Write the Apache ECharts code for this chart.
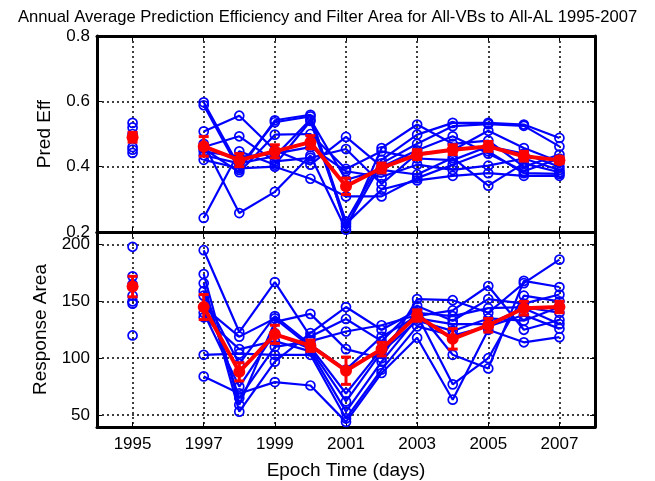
<!DOCTYPE html>
<html><head><meta charset="utf-8">
<script src="https://cdn.jsdelivr.net/npm/echarts@6/dist/echarts.min.js"></script>
<style>html,body{margin:0;padding:0;background:#fff}#c{width:655px;height:481px}</style>
</head><body><div id="c"></div>
<script>
const years = [1995,1996,1997,1998,1999,2000,2001,2002,2003,2004,2005,2006,2007];
const xTicks = [1995,1997,1999,2001,2003,2005,2007];
const effTicks = [0.2,0.4,0.6,0.8];
const areaTicks = [50,100,150,200];

const eff1 = [0.534,null,0.597,0.40,0.536,0.554,0.232,0.421,0.498,0.534,0.534,0.529,0.488];
const eff2 = [0.52,null,0.588,0.39,0.542,0.559,0.217,0.41,0.47,0.524,0.53,0.525,0.462];
const eff3 = [0.50,null,0.47,0.258,0.323,0.434,0.207,0.457,0.529,0.47,0.48,0.40,0.437];
const eff4 = [0.46,null,0.508,0.556,0.45,0.406,0.491,0.40,0.45,0.493,0.44,0.386,0.425];
const eff5 = [0.452,null,0.46,0.493,0.416,0.427,0.454,0.347,0.44,0.45,0.51,0.457,0.415];
const eff6 = [0.442,null,0.455,0.383,0.498,0.50,0.393,0.447,0.425,0.42,0.462,0.44,0.40];
const eff7 = [null,null,0.447,0.43,0.44,0.46,0.386,0.369,0.406,0.39,0.403,0.425,0.39];
const eff8 = [null,null,0.435,0.41,0.432,0.544,0.36,0.39,0.376,0.427,0.342,0.41,0.383];
const eff9 = [null,null,0.421,0.395,0.40,0.363,0.309,0.309,0.365,0.406,0.447,0.38,0.378];
const eff10 = [null,null,0.243,0.447,0.406,0.54,0.225,0.33,0.358,0.372,0.38,0.372,0.372];
const effMean = [0.49,null,0.462,0.42,0.447,0.475,0.34,0.396,0.437,0.452,0.462,0.432,0.42];
const effErr = [0.015,null,0.03,0.02,0.02,0.02,0.025,0.015,0.015,0.015,0.015,0.015,0.01];

const area1 = [198,null,195,123,167,119,134.5,115,146,133,152,148,156];
const area2 = [172,null,174,59,132,139,108,100,152,151,140,166,186.7];
const area3 = [165,null,166,53,97,122,145,125,142,103,91,168,162.6];
const area4 = [155,null,159,65,110,115,123.5,129,138,77,100,155,150];
const area5 = [150,null,155,95,137,112,90,119,137,142,163.5,125,133.6];
const area6 = [148,null,145,119,135,110,69,108,140,137,144,145,140];
const area7 = [120,null,140,75,122,108,62,105.5,133,124,135,133,145];
const area8 = [null,null,136,108,115,106,53,97,135,130,130,144,130];
const area9 = [null,null,103,104,103,103,47,90,128,120,128,138,126];
const area10 = [null,null,84,69,79,76,44,87,118,63.5,125,114,118.5];
const areaMean = [163,null,145,88,121,111,89,108,137.5,117,129,144,145];
const areaErr = [9,null,11,8,8,5,12,6,5,9,6,6,5];

const effSeries = [eff1,eff2,eff3,eff4,eff5,eff6,eff7,eff8,eff9,eff10];
const areaSeries = [area1,area2,area3,area4,area5,area6,area7,area8,area9,area10];

const FONT = 'Liberation Sans, Arial, sans-serif';
const pairs = arr => years.map((y,i) => [y, arr[i] == null ? '-' : arr[i]]);

function blue(arr, gi) {
  return {type:'line', xAxisIndex: gi*2, yAxisIndex: gi*2, data: pairs(arr),
    symbol:'circle', symbolSize: 9, connectNulls:false, silent:true, animation:false,
    lineStyle:{color:'#0000ff', width:2.2},
    itemStyle:{color:'rgba(0,0,0,0)', borderColor:'#0000ff', borderWidth:1.7}, z:2};
}
function redLine(arr, gi) {
  return {type:'line', xAxisIndex: gi*2, yAxisIndex: gi*2, data: pairs(arr),
    symbol:'circle', symbolSize: 12, connectNulls:false, animation:false,
    lineStyle:{color:'#ff0000', width:4}, itemStyle:{color:'#ff0000'}, z:5};
}
function errBars(mean, err, gi) {
  const d = [];
  years.forEach((y,i) => { if (mean[i] != null) d.push([y, mean[i], err[i]]); });
  return {type:'custom', xAxisIndex: gi*2, yAxisIndex: gi*2, data: d, animation:false, z:4,
    renderItem: (params, api) => {
      const x = api.value(0), m = api.value(1), e = api.value(2);
      const lo = api.coord([x, m - e]), hi = api.coord([x, m + e]);
      const w = 5, st = {stroke:'#ff0000', lineWidth:3};
      return {type:'group', children:[
        {type:'line', shape:{x1:lo[0],y1:lo[1],x2:hi[0],y2:hi[1]}, style:st},
        {type:'line', shape:{x1:lo[0]-w,y1:lo[1],x2:lo[0]+w,y2:lo[1]}, style:st},
        {type:'line', shape:{x1:hi[0]-w,y1:hi[1],x2:hi[0]+w,y2:hi[1]}, style:st}
      ]};
    }};
}

const tickStyle = {show:true, inside:true, length:5, lineStyle:{color:'#000', width:1}};
const gridLine = {show:true, lineStyle:{color:'#000', type:[2,3], width:1.5}};
function xAx(gi, pos, labels) {
  return {type:'value', gridIndex:gi, position:pos, min:1994, max:2008,
    axisLine:{show:true, onZero:false, lineStyle:{color:'#000', width:3}},
    axisTick:Object.assign({customValues:xTicks}, tickStyle),
    axisLabel:{show:labels, customValues:xTicks, formatter: v => String(v), color:'#000', fontSize:17, fontFamily:FONT, margin:9},
    splitLine: pos==='bottom' ? gridLine : {show:false},
    name: labels ? 'Epoch Time (days)' : '', nameLocation:'middle', nameGap:34,
    nameTextStyle:{color:'#000', fontSize:19, fontFamily:FONT}};
}
function yAx(gi, pos, min, max, ticks, name) {
  return {type:'value', gridIndex:gi, position:pos, min:min, max:max,
    axisLine:{show:true, onZero:false, lineStyle:{color:'#000', width:3}},
    axisTick:Object.assign({customValues:ticks}, tickStyle),
    axisLabel:{show:pos==='left', customValues:ticks, color:'#000', fontSize:17, fontFamily:FONT, margin:7},
    splitLine: pos==='left' ? gridLine : {show:false},
    name: pos==='left' ? name : '', nameLocation:'middle', nameGap:43, nameRotate:90,
    nameTextStyle:{color:'#000', fontSize:19, fontFamily:FONT}};
}

const series = [];
effSeries.forEach(a => series.push(blue(a,0)));
areaSeries.forEach(a => series.push(blue(a,1)));
series.push(errBars(effMean, effErr, 0), redLine(effMean, 0));
series.push(errBars(areaMean, areaErr, 1), redLine(areaMean, 1));

const chart = echarts.init(document.getElementById('c'), null, {renderer:'canvas'});
chart.setOption({
  backgroundColor:'#fff',
  animation:false,
  title:{text:'Annual Average Prediction Efficiency and Filter Area for All-VBs to All-AL 1995-2007',
    left:'center', top:4, textStyle:{fontSize:16.6, fontWeight:'normal', color:'#000', fontFamily:FONT}},
  grid:[
    {left:97, right:60, top:36, height:196},
    {left:97, right:60, top:232, height:197}
  ],
  xAxis:[xAx(0,'bottom',false), xAx(0,'top',false), xAx(1,'bottom',true), xAx(1,'top',false)],
  yAxis:[yAx(0,'left',0.2,0.8,effTicks,'Pred Eff'), yAx(0,'right',0.2,0.8,effTicks,''),
         yAx(1,'left',39.5,211,areaTicks,'Response Area'), yAx(1,'right',39.5,211,areaTicks,'')],
  series: series
});
</script></body></html>
